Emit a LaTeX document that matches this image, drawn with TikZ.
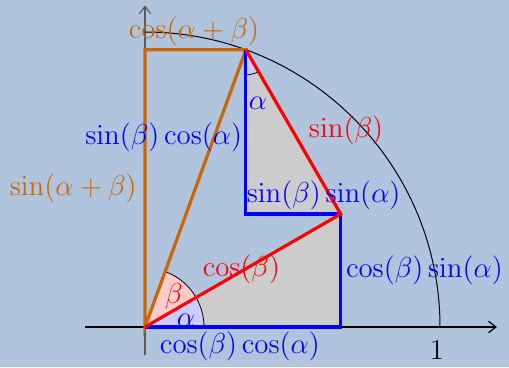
\documentclass[tikz,border=0pt]{standalone}
\usepackage{amsmath, amssymb}
\usepackage{xcolor}
\usetikzlibrary{positioning,arrows.meta,calc}

\definecolor{bgblue}{HTML}{B0C4DE}
\definecolor{sumorange}{HTML}{CC6600}
\definecolor{wedgeblue}{HTML}{CCCCFF}
\definecolor{wedgered}{HTML}{FFCCCC}

\begin{document}
\begin{tikzpicture}[
      x=147.5pt, y=147.5pt,
      font=\fontsize{15.5}{18}\selectfont,
      axis/.style={line width=0.6pt, -{Straight Barb[length=1.3mm,width=2mm]}},
      side/.style={line width=1.6pt, line join=miter},
      lbl/.style={inner sep=1pt},
    ]
    \fill[bgblue] (-0.4915,-0.1356) rectangle (1.2339,1.1085);
    \useasboundingbox (-0.4915,-0.1356) rectangle (1.2339,1.1085);

    % points
    \coordinate (O) at (0,0);
    \coordinate (A) at (0.6634,0);
    \coordinate (P) at (0.6634,0.3830);
    \coordinate (Q) at (0.3420,0.9397);
    \coordinate (C) at (0.3420,0.3830);
    \coordinate (T) at (0,0.9397);
    \coordinate (xs) at (-0.203,0);
    \coordinate (xe) at (1.193,0);
    \coordinate (ys) at (0,-0.095);
    \coordinate (ye) at (0,1.09);

    % grey triangles
    \fill[gray!40] (O) -- (A) -- (P) -- cycle;
    \fill[gray!40] (C) -- (P) -- (Q) -- cycle;

    % angle wedges
    \filldraw[fill=wedgeblue, draw=black, line width=0.4pt] (O) -- (0.2,0) arc[start angle=0, end angle=30, radius=0.2] -- cycle;
    \filldraw[fill=wedgered, draw=black, line width=0.4pt] (O) -- (30:0.2) arc[start angle=30, end angle=70, radius=0.2] -- cycle;
    \filldraw[fill=wedgeblue, draw=black, line width=0.4pt] (Q) -- ++(270:0.085) arc[start angle=270, end angle=300, radius=0.085] -- cycle;

    % axes and unit arc
    \draw[axis, black] (xs) -- (xe);
    \draw[axis, black!65] (ys) -- (ye);
    \draw[line width=0.5pt] (1,0) arc[start angle=0, end angle=90, radius=1];
    \node[lbl, anchor=north] (one) at (0.99,-0.04) {$1$};

    % sides
    \draw[side, sumorange] (O) -- (T) -- (Q) -- cycle;
    \draw[side, blue] (O) -- (A) -- (P);
    \draw[side, blue] (Q) -- (C) -- (P);
    \draw[side, red] (O) -- (P) -- (Q);

    % labels
    \node[lbl, sumorange, anchor=south] (cab) at ($(T)!0.5!(Q)+(-0.005,0.005)$) {$\cos(\alpha+\beta)$};
    \node[lbl, sumorange, anchor=east] (sab) at ($(O)!0.5!(T)+(-0.02,0)$) {$\sin(\alpha+\beta)$};
    \node[lbl, blue, anchor=east] (sbca) at ($(Q)!0.5!(C)+(-0.005,-0.017)$) {$\sin(\beta)\cos(\alpha)$};
    \node[lbl, red, anchor=west] (sb) at ($(Q)!0.5!(P)+(0.045,0.007)$) {$\sin(\beta)$};
    \node[lbl, blue, anchor=south west] (sbsa) at ($(C)+(-0.005,0.005)$) {$\sin(\beta)\sin(\alpha)$};
    \node[lbl, red] (cb) at ($(O)!0.5!(P)+(-0.005,0.005)$) {$\cos(\beta)$};
    \node[lbl, blue, anchor=west] (cbsa) at ($(A)!0.5!(P)+(0.01,0)$) {$\cos(\beta)\sin(\alpha)$};
    \node[lbl, blue, anchor=north] (cbca) at ($(O)!0.5!(A)+(-0.01,-0.008)$) {$\cos(\beta)\cos(\alpha)$};
    \node[lbl, red] (bet) at (0.098,0.105) {$\beta$};
    \node[lbl, blue] (alp) at (0.139,0.024) {$\alpha$};
    \node[lbl, blue] (alq) at (0.383,0.76) {$\alpha$};
  \end{tikzpicture}
\end{document}
